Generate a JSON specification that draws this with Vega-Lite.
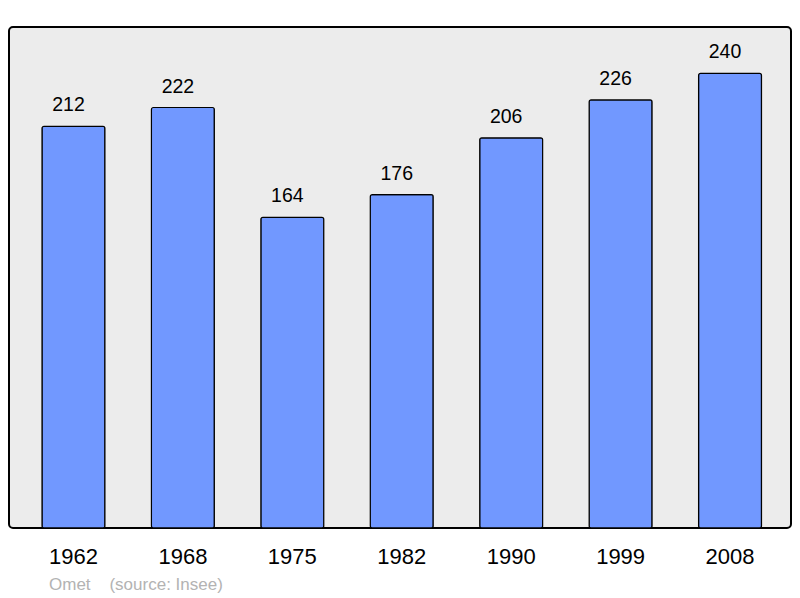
{
  "$schema": "https://vega.github.io/schema/vega-lite/v6.json",
  "autosize": "none",
  "width": 782,
  "height": 501,
  "padding": {"left": 9, "top": 27, "right": 9, "bottom": 70},
  "background": "white",
  "config": {
    "font": "Liberation Sans",
    "view": {"fill": "#ececec", "stroke": "black", "strokeWidth": 2, "cornerRadius": 4}
  },
  "title": {
    "text": "Omet\u00a0\u00a0\u00a0\u00a0(source: Insee)",
    "orient": "bottom",
    "anchor": "start",
    "frame": "group",
    "fontSize": 17,
    "fontWeight": "normal",
    "color": "#b3b3b3",
    "dx": 40,
    "offset": 10
  },
  "data": {
    "values": [
      {"year": "1962", "pop": 212},
      {"year": "1968", "pop": 222},
      {"year": "1975", "pop": 164},
      {"year": "1982", "pop": 176},
      {"year": "1990", "pop": 206},
      {"year": "1999", "pop": 226},
      {"year": "2008", "pop": 240}
    ]
  },
  "encoding": {
    "x": {
      "field": "year",
      "type": "ordinal",
      "sort": null,
      "scale": {"range": [33, 752.5], "paddingInner": 0.425, "paddingOuter": 0},
      "axis": {
        "title": null,
        "domain": false,
        "ticks": false,
        "labelAngle": 0,
        "labelFontSize": 22,
        "labelColor": "black",
        "labelBaseline": "alphabetic",
        "labelPadding": 35
      }
    },
    "y": {
      "field": "pop",
      "type": "quantitative",
      "scale": {"domain": [0, 264.5], "nice": false},
      "axis": null
    }
  },
  "layer": [
    {
      "mark": {"type": "bar", "fill": "#7198ff", "stroke": "black", "strokeWidth": 1.2, "cornerRadius": 2}
    },
    {
      "mark": {"type": "text", "baseline": "alphabetic", "dy": -15, "dx": -5, "fontSize": 19.5, "color": "black"},
      "encoding": {"text": {"field": "pop", "type": "quantitative"}}
    }
  ]
}
